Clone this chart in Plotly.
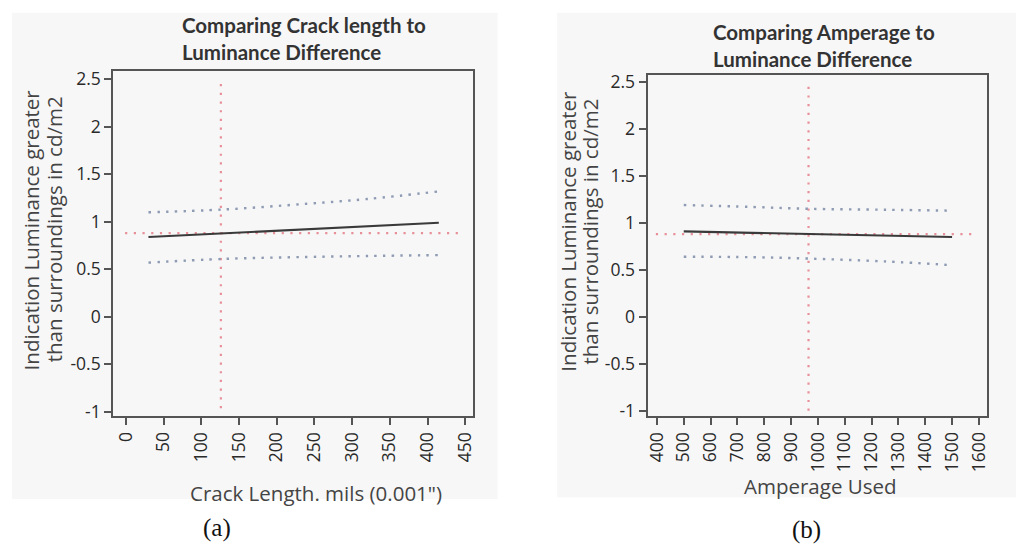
import plotly.graph_objects as go

W, H = 1019, 552

# ---- Panel (a): crack length vs luminance difference ----
crack_fit_x = [30, 415]
crack_fit_y = [0.84, 0.99]
crack_ci_x = [30, 130, 240, 320, 415]
crack_ci_upper = [1.10, 1.13, 1.19, 1.24, 1.32]
crack_ci_lower = [0.57, 0.61, 0.63, 0.64, 0.65]
crack_mean_y = 0.88
crack_mean_x = 126
crack_ticks = [0, 50, 100, 150, 200, 250, 300, 350, 400, 450]

# ---- Panel (b): amperage vs luminance difference ----
amp_fit_x = [500, 1500]
amp_fit_y = [0.91, 0.85]
amp_ci_x = [500, 750, 965, 1250, 1500]
amp_ci_upper = [1.19, 1.17, 1.15, 1.14, 1.13]
amp_ci_lower = [0.64, 0.635, 0.62, 0.59, 0.55]
amp_mean_y = 0.88
amp_mean_x = 965
amp_ticks = list(range(400, 1700, 100))

y_ticks = [-1, -0.5, 0, 0.5, 1, 1.5, 2, 2.5]
y_ticktext = ["-1", "-0.5", "0", "0.5", "1", "1.5", "2", "2.5"]

y_title_lines = ["Indication Luminance greater", "than surroundings in cd/m2"]


def px(x):
    return x / W


def py(y):
    return 1 - y / H


FIT = dict(color="#3a3a3a", width=2.2)
CI = dict(color="#8e9bb3", width=2.4, dash="2.4px,6.3px")
MEAN = dict(color="#e8909a", width=2.2, dash="2.2px,6.5px")

fig = go.Figure()

# panel (a)
fig.add_trace(go.Scatter(x=[-1, 444], y=[crack_mean_y, crack_mean_y], mode="lines",
                         line=MEAN, xaxis="x", yaxis="y"))
fig.add_trace(go.Scatter(x=[crack_mean_x, crack_mean_x], y=[2.45, -1.0], mode="lines",
                         line=MEAN, xaxis="x", yaxis="y"))
fig.add_trace(go.Scatter(x=crack_ci_x, y=crack_ci_upper, mode="lines", line=CI,
                         line_shape="spline", xaxis="x", yaxis="y"))
fig.add_trace(go.Scatter(x=crack_ci_x, y=crack_ci_lower, mode="lines", line=CI,
                         line_shape="spline", xaxis="x", yaxis="y"))
fig.add_trace(go.Scatter(x=crack_fit_x, y=crack_fit_y, mode="lines", line=FIT,
                         xaxis="x", yaxis="y"))

# panel (b)
fig.add_trace(go.Scatter(x=[396, 1593], y=[amp_mean_y, amp_mean_y], mode="lines",
                         line=MEAN, xaxis="x2", yaxis="y2"))
fig.add_trace(go.Scatter(x=[amp_mean_x, amp_mean_x], y=[2.45, -1.0], mode="lines",
                         line=MEAN, xaxis="x2", yaxis="y2"))
fig.add_trace(go.Scatter(x=amp_ci_x, y=amp_ci_upper, mode="lines", line=CI,
                         line_shape="spline", xaxis="x2", yaxis="y2"))
fig.add_trace(go.Scatter(x=amp_ci_x, y=amp_ci_lower, mode="lines", line=CI,
                         line_shape="spline", xaxis="x2", yaxis="y2"))
fig.add_trace(go.Scatter(x=amp_fit_x, y=amp_fit_y, mode="lines", line=FIT,
                         xaxis="x2", yaxis="y2"))

TICKFONT = dict(family="Open Sans, Lato, sans-serif", size=17.5, color="#2a2a2a")
axis_common = dict(showline=True, mirror=True, linecolor="#555555", linewidth=2,
                   ticks="outside", ticklen=7, tickwidth=2, tickcolor="#555555",
                   showgrid=False, zeroline=False, tickfont=TICKFONT)

fig.update_layout(
    width=W, height=H, autosize=False,
    margin=dict(l=0, r=0, t=0, b=0),
    paper_bgcolor="white", plot_bgcolor="white",
    showlegend=False,
    xaxis=dict(domain=[px(110), px(472)], range=[-16.7, 460], anchor="y",
               tickvals=crack_ticks, ticktext=[str(t) for t in crack_ticks],
               tickangle=-90, **axis_common),
    yaxis=dict(domain=[py(420), py(67)], range=[-1.045, 2.583], anchor="x",
               tickvals=y_ticks, ticktext=y_ticktext, **axis_common),
    xaxis2=dict(domain=[px(648), px(990)], range=[365, 1631], anchor="y2",
                tickvals=amp_ticks, ticktext=[str(t) for t in amp_ticks],
                tickangle=-90, **axis_common),
    yaxis2=dict(domain=[py(420), py(71)], range=[-1.057, 2.571], anchor="x2",
                tickvals=y_ticks, ticktext=y_ticktext, **axis_common),
)

# light grey panels behind each chart
fig.add_shape(type="rect", xref="paper", yref="paper", layer="below",
              x0=px(8), x1=px(497), y0=py(505), y1=py(7),
              fillcolor="#f7f7f7", line=dict(width=0))
fig.add_shape(type="rect", xref="paper", yref="paper", layer="below",
              x0=px(557), x1=px(1019), y0=py(503), y1=py(7),
              fillcolor="#f7f7f7", line=dict(width=0))

TITLE = dict(family="Lato, Open Sans, sans-serif", size=20.5, color="#333333")
LABEL = dict(family="Open Sans, Lato, sans-serif", size=20.5, color="#444444")
CAPTION = dict(family="Liberation Serif, Times New Roman, serif", size=25, color="#111111")

annotations = [
    dict(text="<b>Comparing Crack length to<br>Luminance Difference</b>",
         x=px(177), y=py(33), xanchor="left", yanchor="middle", align="left", font=TITLE),
    dict(text="<b>Comparing Amperage to<br>Luminance Difference</b>",
         x=px(712), y=py(40), xanchor="left", yanchor="middle", align="left", font=TITLE),
    # two-line y titles, one annotation per line to keep the tight line spacing
    dict(text=y_title_lines[0], x=px(27), y=py(229), textangle=-90,
         xanchor="center", yanchor="middle", font=LABEL),
    dict(text=y_title_lines[1], x=px(50), y=py(229), textangle=-90,
         xanchor="center", yanchor="middle", font=LABEL),
    dict(text=y_title_lines[0], x=px(567), y=py(231), textangle=-90,
         xanchor="center", yanchor="middle", font=LABEL),
    dict(text=y_title_lines[1], x=px(590), y=py(231), textangle=-90,
         xanchor="center", yanchor="middle", font=LABEL),
    dict(text="Crack Length. mils (0.001\")", x=px(314), y=py(499),
         xanchor="center", yanchor="middle", font=LABEL),
    dict(text="Amperage Used", x=px(822), y=py(492),
         xanchor="center", yanchor="middle", font=LABEL),
    dict(text="(a)", x=px(214), y=py(535), xanchor="center", yanchor="middle", font=CAPTION),
    dict(text="(b)", x=px(808), y=py(537), xanchor="center", yanchor="middle", font=CAPTION),
]
for a in annotations:
    a.update(xref="paper", yref="paper", showarrow=False)
fig.update_layout(annotations=annotations)

fig.write_html("out.html")
